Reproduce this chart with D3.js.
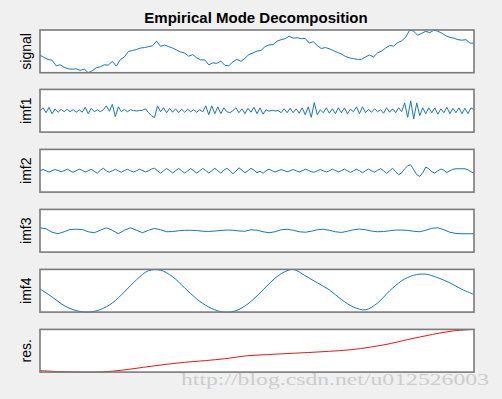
<!DOCTYPE html>
<html>
<head>
<meta charset="utf-8">
<script src="https://cdn.jsdelivr.net/npm/d3@7"></script>
<style>
  html, body { margin: 0; padding: 0; background: #f0f0f0; }
  svg { display: block; }
</style>
</head>
<body>
<svg id="chart" width="502" height="399"></svg>
<script>
// ---------------- data ----------------
const title = "Empirical Mode Decomposition";
const panelLabels = ["signal", "imf1", "imf2", "imf3", "imf4", "res."];

const signal = [17.7,15.5,13.3,12.7,7,8,5.5,4,3.5,4,2.3,3.7,0,2,5,6,8,7.7,11.5,6.7,
  13.3,16,21.5,22.5,23.5,25,25.5,26.4,27.2,32,26.7,28,26.5,25,23,21,20,16.7,18.3,15,
  13,13,8,10,9.5,11.7,7.5,7,11,13.5,11.5,14.5,18.5,20,22,22.5,26.5,28.2,28.5,32,
  33.5,34.5,37,35,35.5,34.5,34.8,30,31.5,27.5,24.5,25.5,24.3,22.5,20.5,19,16.5,15,14.3,13.5,
  13.5,16,18,16,20,22,25,27.5,27,30.5,32.3,36,43.3,42,38,40,42,40.5,43.2,42,
  40,37.5,35.8,35,33.5,33,33.5,30,30];

const imf1 = [0,3,-2,3.5,-3,2,-1.5,1.5,-1,1.5,
  -1,1.2,-1.5,1,-1.5,3.5,-3,2.5,-1,1,
  -1,1,5,-0.5,6.5,-6,4,-1,1.5,-1,
  1,0.2,-0.2,0.2,0.5,2,-2,-5,-7,5,
  -1,3,-2,2.5,-1.5,2,-2,1.5,-1.5,1.5,
  -1,1,-1.5,1,-1,5,-4,5,-3,4,
  -3,3,-1,-2,0,3,-2,2,-3,2.5,
  -1.5,3.5,-3,3,-3.5,1,-0.5,0.5,-0.3,0.3,
  -2,2,-2,2.5,-2,2,-2.5,3,-4,4,
  -6.7,8.3,-4,1,-2,3,-2.5,2,-3,3,
  -2,3,-3,1.5,-1,4,-3,4,-2,1.5,
  -1.5,2,-1,1,-2.5,3,-1.5,2,-2,3,
  -1,8,-6.7,10,-8.3,8,-5,3,-3,3,
  -2,3,-3.5,2,-2,3.5,-3,2.5,-2,3,
  -3,2.5,-3,3,1];

const imf2 = [0,1.3,0,-1.3,0,1.2,0.3,-1,0,1.7,
  0,-1.5,0,1.7,0.5,-1.2,0,1.5,-0.5,-2.5,
  0.5,2.5,0,-1.5,0,1.5,0,-1.5,0.3,1.5,
  0,-1.3,0,1.5,0.3,-1.2,0,1.7,2.5,0,
  -2.5,0,2.3,0.2,-2.2,0,2.4,0,-2.3,-0.2,
  2.2,0,-2.4,0,2.3,0.3,-2.3,0,2.5,0,
  -2.5,0.5,2.5,0,-3,-0.5,3,0.5,-2,0,
  2.5,0.5,-2,-0.5,-2.5,0,1.5,0,-1.2,0,
  1.2,0.2,-1,0,1.3,0,-1.2,0,1.5,0.5,
  -1,-1.5,0,1.2,0,-1.3,0,1.5,0.3,-1,
  0,1.7,0,-1.7,0,1.5,0,-2,0,1.7,
  0,-1.5,0.5,2,0,-2.5,0,2.5,-1,-4,
  -2,2,5,6,1,-4,-5.7,-2,3.7,2,
  -1,-2.3,0,1.7,0.5,-1.7,0,1.5,2,2,
  2,2,1,-1,-2.3];

const imf3 = [3,2,-1.5,-3,-1,1.3,1.5,1.3,-1,-2,
  0.5,3,0.5,-3,0.5,3,0.5,-2,0.5,2.3,
  1,-1,-0.8,0,0.4,0.5,0.2,-0.5,-0.7,-0.3,
  0.3,0.7,0.5,-0.2,-0.5,1,0.5,-1,-2,-1,
  1,1.5,0.5,-1,-1.5,-0.5,1,1.5,0.5,-1,
  -1.7,-0.5,1,1.7,1,-0.3,-1,-0.8,0,0.7,
  0.7,0.3,-0.5,-1,0.5,2.5,3,1,-1.5,-2.7,
  -3,-3,-3];

const imf4 = [23,15,6.5,1.5,0,2.5,9,20,32,41,
  41.5,35,24,13,5,0.5,0.5,6,16,28,
  38,42.3,36,29,22,12.5,5,2.3,9,21,
  31,36.5,37.6,34,29,22.5,17.5];

const residue = [1.5,0.4,0,0.2,2,4.8,7.5,9.8,11.5,13.5,16.3,
  17.5,18.6,19.6,20.8,22.3,25,28.7,33.5,37.7,41.2,42.7];

const series = [signal, imf1, imf2, imf3, imf4, residue];
// y limits per panel (null = tight to data)
const yLimits = [null, [-21.7, 21.7], [-21.5, 21.5], [-21.5, 21.5], null, null];
const lineColors = ["#1a76b8", "#1a76b8", "#1a76b8", "#1a76b8", "#1a76b8", "#E01818"];
const watermark = "http://blog.csdn.net/u012526003";

// ---------------- layout ----------------
const svg = d3.select("#chart");
const W = 502, H = 399;
const left = 40, right = 474;
const firstTop = 30, panelH = 42.7, step = 60;

svg.append("rect").attr("width", W).attr("height", H).attr("fill", "#f0f0f0");

svg.append("text")
  .attr("x", 256)
  .attr("y", 23)
  .attr("text-anchor", "middle")
  .attr("font-family", "Liberation Sans, Arial, sans-serif")
  .attr("font-weight", "bold")
  .attr("font-size", 15)
  .attr("fill", "#000")
  .text(title);

series.forEach((vals, i) => {
  const top = firstTop + i * step - (i > 0 ? 0.6 : 0);
  const bottom = top + panelH;
  const x = d3.scaleLinear().domain([0, vals.length - 1]).range([left, right]);
  const y = d3.scaleLinear().domain(yLimits[i] || d3.extent(vals)).range([bottom, top]);

  const g = svg.append("g");
  g.append("rect")
    .attr("x", left).attr("y", top)
    .attr("width", right - left).attr("height", panelH)
    .attr("fill", "#ffffff");

  const line = d3.line()
    .x((d, k) => x(k))
    .y(d => y(d))
    .curve(i >= 4 ? d3.curveCatmullRom : d3.curveLinear);

  g.append("path")
    .datum(vals)
    .attr("d", line)
    .attr("fill", "none")
    .attr("stroke", lineColors[i])
    .attr("stroke-width", 1)
    .attr("stroke-linejoin", "round");

  g.append("rect")
    .attr("x", left).attr("y", top)
    .attr("width", right - left).attr("height", panelH)
    .attr("fill", "none")
    .attr("stroke", "#7a7a7a")
    .attr("stroke-width", 1.6);

  const cy = (top + bottom) / 2;
  g.append("text")
    .attr("transform", `translate(30.5,${cy}) rotate(-90)`)
    .attr("text-anchor", "middle")
    .attr("font-family", "Liberation Sans, Arial, sans-serif")
    .attr("font-size", 14)
    .attr("fill", "#000")
    .text(panelLabels[i]);
});

svg.append("text")
  .attr("x", 181)
  .attr("y", 385)
  .attr("font-family", "Liberation Serif, DejaVu Serif, serif")
  .attr("font-size", 17)
  .attr("textLength", 308)
  .attr("lengthAdjust", "spacingAndGlyphs")
  .attr("fill", "#cdcdcd")
  .text(watermark);
</script>
</body>
</html>
